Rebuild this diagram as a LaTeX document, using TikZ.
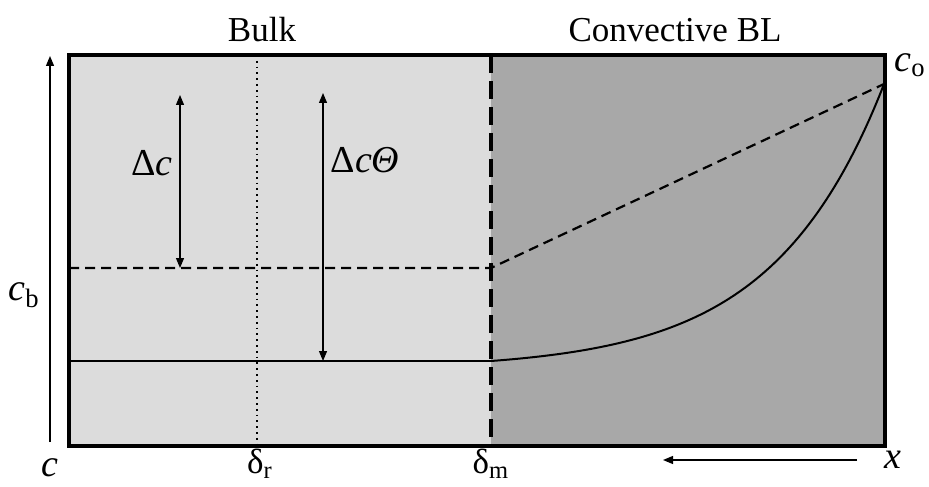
\documentclass[tikz,border=0pt]{standalone}
\usepackage{fontspec}
\setmainfont{Liberation Serif}
\usetikzlibrary{positioning,arrows.meta}
\definecolor{bulkgray}{RGB}{220,220,220}
\definecolor{blgray}{RGB}{168,168,168}

\begin{document}
\begin{tikzpicture}[
    x=0.5pt, y=-0.5pt,
    lbl/.style={font=\fontsize{17.5}{20}\selectfont, inner sep=0pt},
    mlbl/.style={font=\fontsize{19}{22}\selectfont, inner sep=0pt},
    frame/.style={line width=2pt},
    thinarrow/.style={line width=0.6pt, -{Triangle[length=5pt,width=4pt]}},
    bothways/.style={line width=0.6pt, {Triangle[length=5pt,width=4pt]}-{Triangle[length=5pt,width=4pt]}},
    profile/.style={line width=1pt},
    dprofile/.style={line width=1.1pt, dash pattern=on 5pt off 3pt}
]
\useasboundingbox (0,0) rectangle (929,486);

% corners of the domain
\coordinate (tl) at (69,55);
\coordinate (br) at (885,446);
\coordinate (mt) at (491,55);
\coordinate (mb) at (491,446);
\coordinate (rt) at (257,55);
\coordinate (rb) at (257,446);

% Bulk and convective boundary layer
\fill[bulkgray] (tl) rectangle (mb);
\fill[blgray] (mt) rectangle (br);
\draw[line width=0.9pt, dotted] (rt) -- (rb);

% concentration profiles
\coordinate (co) at (884,84);
\coordinate (dl) at (69,268);
\coordinate (db) at (491,268);
\coordinate (sl) at (69,361);
\coordinate (sb) at (491,361);
\draw[dprofile] (dl) -- (db) -- (co);
\draw[profile] (sl) -- (sb);
\draw[profile] plot[domain=0:393, samples=80] ({491+\x},{361-8.29*(exp(0.009*\x)-1)});

\draw[line width=2pt, dash pattern=on 9pt off 4pt] (mt) -- (mb);
\draw[frame] (tl) rectangle (br);

% arrows
\coordinate (dctop) at (180,95);
\coordinate (dcbot) at (180,268);
\coordinate (dttop) at (323,93);
\coordinate (dtbot) at (323,361);
\draw[bothways] (dctop) -- (dcbot);
\draw[bothways] (dttop) -- (dtbot);
\coordinate (cax0) at (50,442);
\coordinate (cax1) at (50,56);
\draw[thinarrow] (cax0) -- (cax1);
\coordinate (xax0) at (857,460);
\coordinate (xax1) at (663,460);
\draw[thinarrow] (xax0) -- (xax1);

% labels
\node[lbl] (bulk) at (262,30) {Bulk};
\node[lbl] (cbl) at (675,30) {Convective BL};
\node[mlbl] (cb) at (24,295) {\textit{c}\textsubscript{b}};
\node[mlbl] (c) at (50,468) {\textit{c}};
\node[mlbl] (colbl) at (910,65) {\textit{c}\textsubscript{o}};
\node[lbl] (dr) at (260,464) {δ\textsubscript{r}};
\node[lbl] (dm) at (491,464) {δ\textsubscript{m}};
\node[mlbl] (xlbl) at (893,460) {\textit{x}};
\node[mlbl] (dc) at (152,163) {Δ\textit{c}};
\node[mlbl] (dct) at (365,160) {Δ\textit{cΘ}};
\end{tikzpicture}
\end{document}
